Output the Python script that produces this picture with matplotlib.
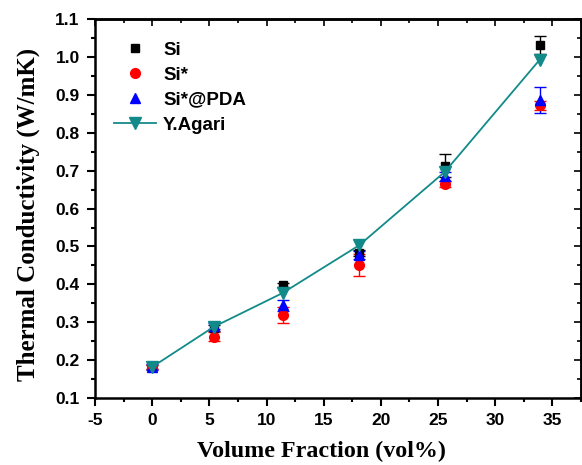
import matplotlib
matplotlib.use("Agg")
import matplotlib.pyplot as plt
from matplotlib.ticker import MultipleLocator

plt.rcParams["axes.unicode_minus"] = False

vol = [0, 5.4, 11.4, 18.1, 25.6, 33.9]

si = [0.182, 0.285, 0.398, 0.483, 0.713, 1.031]
si_err = [0.005, 0.008, 0.006, 0.008, 0.031, 0.023]

si_star = [0.182, 0.262, 0.320, 0.451, 0.665, 0.872]
si_star_err = [0.005, 0.012, 0.021, 0.028, 0.008, 0.012]

si_pda = [0.182, 0.290, 0.345, 0.477, 0.685, 0.886]
si_pda_err = [0.008, 0.008, 0.015, 0.010, 0.012, 0.035]

agari = [0.182, 0.288, 0.377, 0.503, 0.697, 0.993]

teal = "#138a8a"

fig = plt.figure(figsize=(5.82, 4.65), dpi=100)
ax = fig.add_axes([0.1632, 0.144, 0.835, 0.815])

e1 = ax.errorbar(vol, si, yerr=si_err, fmt="s", color="black", ms=6,
                 capsize=4, elinewidth=1, zorder=3)
e2 = ax.errorbar(vol, si_star, yerr=si_star_err, fmt="o", color="red", ms=7,
                 capsize=4, elinewidth=1, zorder=3)
e3 = ax.errorbar(vol, si_pda, yerr=si_pda_err, fmt="^", color="blue", ms=7,
                 capsize=4, elinewidth=1, zorder=3)
l4, = ax.plot(vol, agari, "-v", color=teal, ms=8, lw=1.3, zorder=4)

ax.set_xlim(-5, 37.5)
ax.set_ylim(0.1, 1.1)
ax.xaxis.set_major_locator(MultipleLocator(5))
ax.xaxis.set_minor_locator(MultipleLocator(2.5))
ax.yaxis.set_major_locator(MultipleLocator(0.1))
ax.yaxis.set_minor_locator(MultipleLocator(0.05))
ax.yaxis.set_major_formatter(plt.FormatStrFormatter("%.1f"))

ax.tick_params(which="both", direction="out", width=1.5, top=False, right=False)
ax.tick_params(which="major", length=6, pad=5)
ax.tick_params(which="minor", length=3)
sec_x = ax.secondary_xaxis("top")
sec_x.set_xticks(range(-5, 36, 5))
sec_x.xaxis.set_minor_locator(MultipleLocator(2.5))
sec_x.tick_params(which="both", direction="in", labeltop=False, width=1.2)
sec_x.tick_params(which="major", length=5)
sec_x.tick_params(which="minor", length=3)
sec_y = ax.secondary_yaxis("right")
sec_y.yaxis.set_major_locator(MultipleLocator(0.1))
sec_y.yaxis.set_minor_locator(MultipleLocator(0.05))
sec_y.tick_params(which="both", direction="in", labelright=False, width=1.2)
sec_y.tick_params(which="major", length=5)
sec_y.tick_params(which="minor", length=3)
for sp in ax.spines.values():
    sp.set_linewidth(1.8)
sec_x.spines["top"].set_linewidth(1.8)
sec_y.spines["right"].set_linewidth(1.8)

for lab in ax.get_xticklabels() + ax.get_yticklabels():
    lab.set_fontfamily("Liberation Sans")
    lab.set_fontweight("bold")
    lab.set_fontsize(12.5)

ax.set_xlabel("Volume Fraction (vol%)", family="Liberation Serif",
              fontweight="bold", fontsize=17.3, labelpad=9, x=0.467)
ax.set_ylabel("Thermal Conductivity (W/mK)", family="Liberation Serif",
              fontweight="bold", fontsize=18, labelpad=11, y=0.484)

handles = [e1[0], e2[0], e3[0], l4]
labels = ["Si", "Si*", "Si*@PDA", "Y.Agari"]
leg = ax.legend(handles, labels, loc="upper left", bbox_to_anchor=(0.005, 0.985),
                frameon=False, handlelength=2.2, handletextpad=0.4,
                labelspacing=0.42, prop={"family": "Liberation Sans",
                                         "weight": "bold", "size": 13.5})

fig.savefig("out.png", dpi=100)
